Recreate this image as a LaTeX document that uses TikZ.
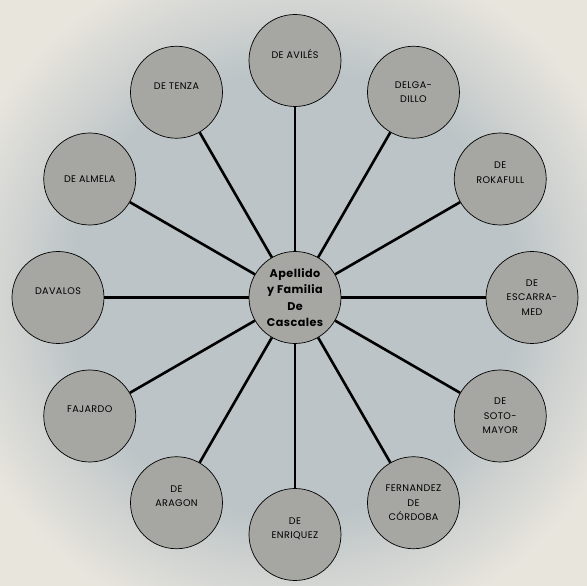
\documentclass[tikz,border=0pt]{standalone}
\usepackage{fontspec}
\setmainfont{Poppins}[LetterSpace=4]
\usepackage{tikz}
\usetikzlibrary{positioning}

\definecolor{paper}{RGB}{232,229,221}
\definecolor{wash}{RGB}{188,196,199}
\definecolor{disc}{RGB}{166,166,162}
\pgfdeclareradialshading{grunge}{\pgfpoint{0bp}{0bp}}{color(0bp)=(wash); color(19bp)=(wash); color(30bp)=(paper); color(50bp)=(paper)}

\begin{document}
\begin{tikzpicture}[
        font=\fontsize{9.6}{14.5}\selectfont,
        leaf/.style={circle, draw=black, line width=0.7pt, fill=disc, minimum size=92pt, inner sep=0pt, align=center},
        raised/.style={text depth=13pt},
        hub/.style={leaf, font=\fontsize{11.2}{16.5}\selectfont\bfseries},
        spoke/.style={line width=2.6pt, black}
    ]
        % background
        \useasboundingbox (-295pt,-288.5pt) rectangle (292pt,297.5pt);
        \shade[shading=grunge] (-295pt,-288.5pt) rectangle (292pt,297.5pt);

        \node[hub] (hub) at (0,0) {Apellido\\y Familia\\De\\Cascales};

        \node[leaf, raised] (aviles) at (90:237pt) {DE AVILÉS};
        \node[leaf] (delgadillo) at (60:237pt) {DELGA-\\DILLO};
        \node[leaf, raised] (rokafull) at (30:237pt) {DE\\ROKAFULL};
        \node[leaf] (escarramed) at (0:237pt) {DE\\ESCARRA-\\MED};
        \node[leaf] (sotomayor) at (-30:237pt) {DE\\SOTO-\\MAYOR};
        \node[leaf] (cordoba) at (-60:237pt) {FERNANDEZ\\DE\\CÓRDOBA};
        \node[leaf, raised] (enriquez) at (-90:237pt) {DE\\ENRIQUEZ};
        \node[leaf, raised] (aragon) at (-120:237pt) {DE\\ARAGON};
        \node[leaf, raised] (fajardo) at (-150:237pt) {FAJARDO};
        \node[leaf, raised] (davalos) at (180:237pt) {DAVALOS};
        \node[leaf] (almela) at (150:237pt) {DE ALMELA};
        \node[leaf, raised] (tenza) at (120:237pt) {DE TENZA};

        \draw[spoke] (hub) -- (aviles);
        \draw[spoke] (hub) -- (delgadillo);
        \draw[spoke] (hub) -- (rokafull);
        \draw[spoke] (hub) -- (escarramed);
        \draw[spoke] (hub) -- (sotomayor);
        \draw[spoke] (hub) -- (cordoba);
        \draw[spoke] (hub) -- (enriquez);
        \draw[spoke] (hub) -- (aragon);
        \draw[spoke] (hub) -- (fajardo);
        \draw[spoke] (hub) -- (davalos);
        \draw[spoke] (hub) -- (almela);
        \draw[spoke] (hub) -- (tenza);
    \end{tikzpicture}
\end{document}
